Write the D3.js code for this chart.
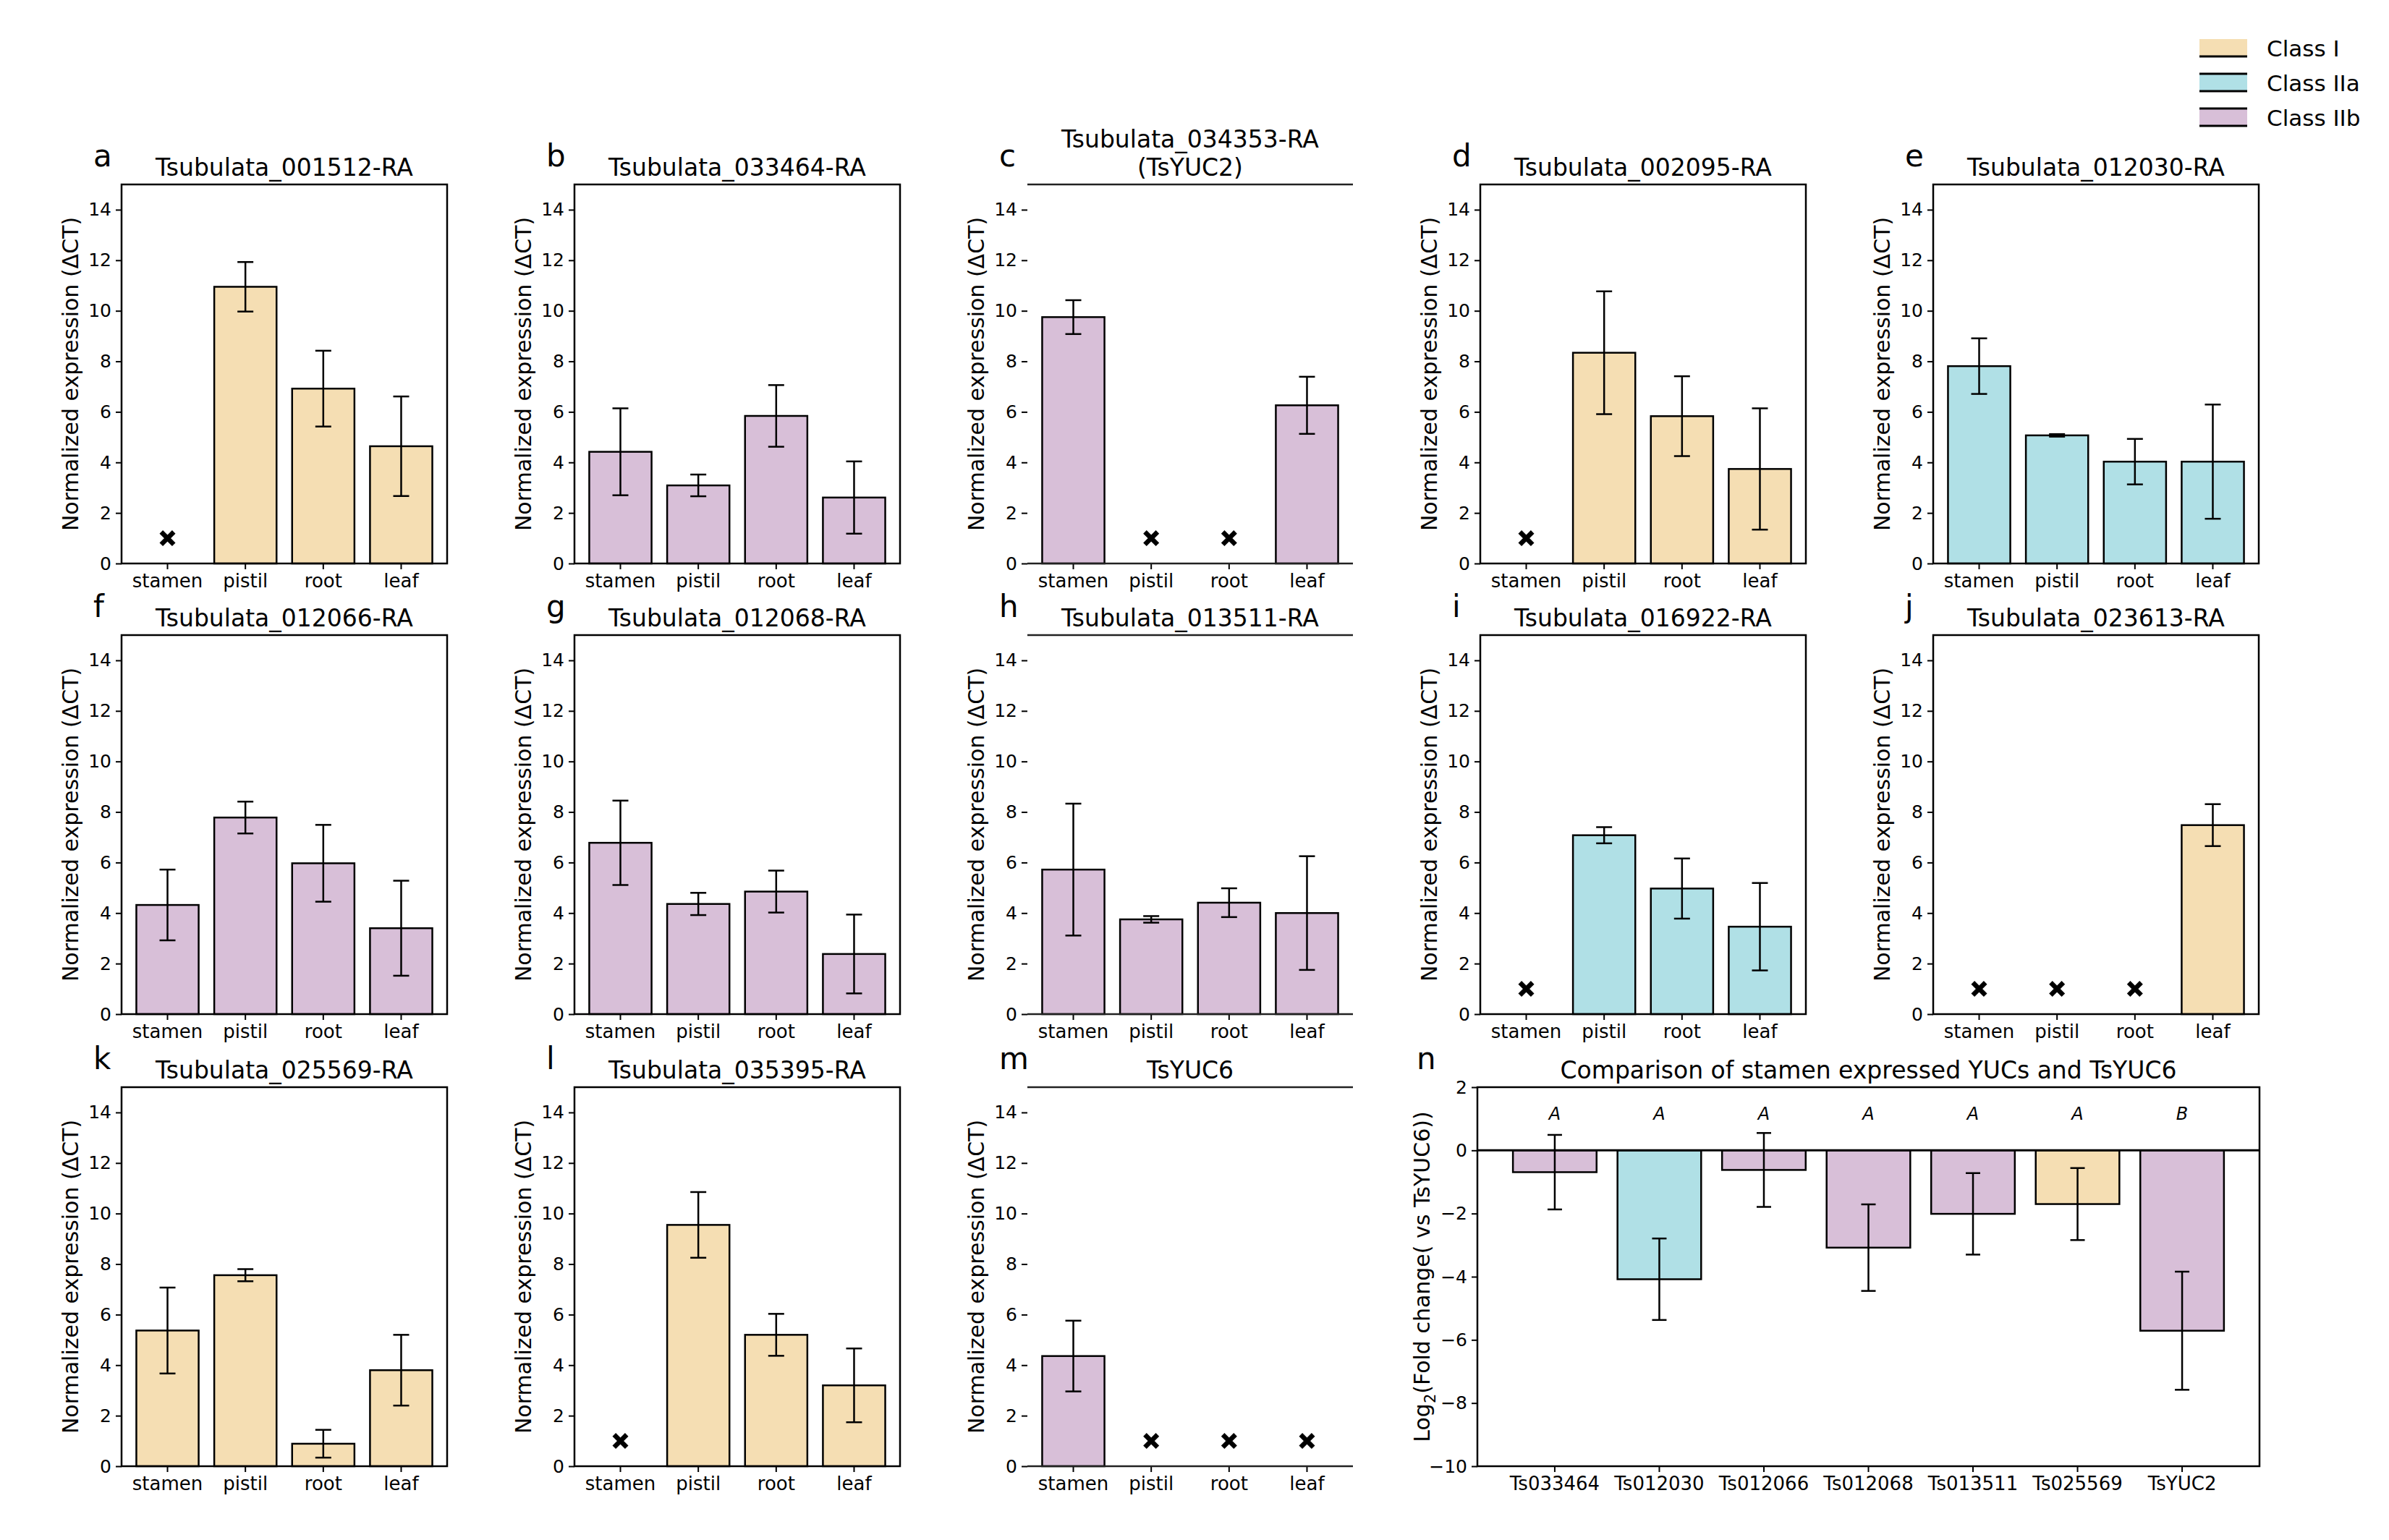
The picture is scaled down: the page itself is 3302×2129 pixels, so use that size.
<!DOCTYPE html>
<html>
<head>
<meta charset="utf-8">
<script src="https://cdn.jsdelivr.net/npm/d3@7"></script>
<style>
  body { margin: 0; background: #fff; }
  text { font-family: "DejaVu Sans", sans-serif; fill: #000; }
</style>
</head>
<body>
<div id="chart"></div>
<script>
"use strict";

// tissues on the x axis of panels a-m
var tissues = ["stamen", "pistil", "root", "leaf"];

var panelLetters = ["a", "b", "c", "d", "e", "f", "g", "h", "i", "j", "k", "l", "m"];
var panelTitles = [
  ["Tsubulata_001512-RA"],
  ["Tsubulata_033464-RA"],
  ["Tsubulata_034353-RA", "(TsYUC2)"],
  ["Tsubulata_002095-RA"],
  ["Tsubulata_012030-RA"],
  ["Tsubulata_012066-RA"],
  ["Tsubulata_012068-RA"],
  ["Tsubulata_013511-RA"],
  ["Tsubulata_016922-RA"],
  ["Tsubulata_023613-RA"],
  ["Tsubulata_025569-RA"],
  ["Tsubulata_035395-RA"],
  ["TsYUC6"]
];
var panelClasses = ["I", "IIb", "IIb", "I", "IIa", "IIb", "IIb", "IIb", "IIa", "I", "I", "I", "IIb"];

// mean normalized expression per tissue, null = not detected (drawn as a cross)
var panelMeans = [
  [null, 10.95, 6.92, 4.64],
  [4.42, 3.09, 5.84, 2.61],
  [9.75, null, null, 6.26],
  [null, 8.34, 5.83, 3.74],
  [7.81, 5.07, 4.03, 4.03],
  [4.32, 7.78, 5.97, 3.40],
  [6.78, 4.36, 4.85, 2.38],
  [5.72, 3.75, 4.41, 4.00],
  [null, 7.08, 4.97, 3.46],
  [null, null, null, 7.48],
  [5.37, 7.56, 0.89, 3.80],
  [null, 9.55, 5.20, 3.20],
  [4.36, null, null, null]
];
var panelErrors = [
  [null, 0.98, 1.50, 1.97],
  [1.72, 0.43, 1.22, 1.43],
  [0.67, null, null, 1.13],
  [null, 2.43, 1.58, 2.40],
  [1.10, 0.05, 0.90, 2.26],
  [1.40, 0.63, 1.52, 1.88],
  [1.67, 0.44, 0.83, 1.56],
  [2.61, 0.13, 0.57, 2.25],
  [null, 0.32, 1.19, 1.73],
  [null, null, null, 0.83],
  [1.70, 0.24, 0.55, 1.40],
  [null, 1.30, 0.83, 1.46],
  [1.40, null, null, null]
];
var notDetectedLevel = 1;
var expressionTicks = [0, 2, 4, 6, 8, 10, 12, 14];
var openFramePanels = ["c", "h", "m"];

// panel n
var compGenes = ["Ts033464", "Ts012030", "Ts012066", "Ts012068", "Ts013511", "Ts025569", "TsYUC2"];
var compLog2FC = [-0.69, -4.08, -0.62, -3.08, -2.01, -1.70, -5.71];
var compErrors = [1.18, 1.29, 1.17, 1.37, 1.29, 1.14, 1.87];
var compClasses = ["IIb", "IIa", "IIb", "IIb", "IIb", "I", "IIb"];
var compLetters = ["A", "A", "A", "A", "A", "A", "B"];
var compLetterLevel = 1.18;
var compTicks = [-10, -8, -6, -4, -2, 0, 2];

var classKeys = ["I", "IIa", "IIb"];
var classNames = ["Class I", "Class IIa", "Class IIb"];
var classColors = { "I": "#f5deb3", "IIa": "#b0e0e6", "IIb": "#d8bfd8" };

var W = 3302, H = 2129;
var colX = [168, 794, 1420, 2046, 2672];
var rowY = [255, 878, 1503];
var pw = 450, ph = 524;

var svg = d3.select("#chart").append("svg")
  .attr("width", W).attr("height", H)
  .style("background", "#fff");

function styleAxis(ax, size) {
  ax.select(".domain").remove();
  ax.selectAll(".tick line").attr("stroke", "#000").attr("stroke-width", 2);
  ax.selectAll(".tick text").style("font-size", size + "px").attr("fill", "#000");
}

function errorBar(g, cx, lo, hi, cap) {
  g.append("line").attr("x1", cx).attr("x2", cx).attr("y1", lo).attr("y2", hi)
    .attr("stroke", "#000").attr("stroke-width", 2.5);
  [lo, hi].forEach(function (yy) {
    g.append("line").attr("x1", cx - cap).attr("x2", cx + cap).attr("y1", yy).attr("y2", yy)
      .attr("stroke", "#000").attr("stroke-width", 2.5);
  });
}

function drawPanel(i) {
  var col = i % 5, row = Math.floor(i / 5);
  var g = svg.append("g").attr("transform", "translate(" + colX[col] + "," + rowY[row] + ")");
  var x = d3.scaleBand().domain(tissues).range([0, pw]).paddingInner(0.2).paddingOuter(0.19);
  var y = d3.scaleLinear().domain([0, 15]).range([ph, 0]);
  var color = classColors[panelClasses[i]];

  tissues.forEach(function (t, j) {
    var m = panelMeans[i][j];
    var cx = x(t) + x.bandwidth() / 2;
    if (m === null) {
      g.append("path")
        .attr("d", d3.symbol(d3.symbolX, 200)())
        .attr("transform", "translate(" + cx + "," + y(notDetectedLevel) + ")")
        .attr("fill", "none").attr("stroke", "#000").attr("stroke-width", 6.5);
      return;
    }
    g.append("rect")
      .attr("x", x(t)).attr("width", x.bandwidth())
      .attr("y", y(m)).attr("height", y(0) - y(m))
      .attr("fill", color).attr("stroke", "#000").attr("stroke-width", 2.5);
    var e = panelErrors[i][j];
    errorBar(g, cx, y(m - e), y(m + e), 11);
  });

  var ya = g.append("g").call(d3.axisLeft(y).tickValues(expressionTicks).tickSize(8).tickPadding(6));
  styleAxis(ya, 25);
  var xa = g.append("g").attr("transform", "translate(0," + ph + ")")
    .call(d3.axisBottom(x).tickSize(8).tickPadding(7));
  styleAxis(xa, 26);

  if (openFramePanels.indexOf(panelLetters[i]) >= 0) {
    g.append("line").attr("x1", 0).attr("x2", pw).attr("y1", 0).attr("y2", 0)
      .attr("stroke", "#222").attr("stroke-width", 2.5);
    g.append("line").attr("x1", 0).attr("x2", pw).attr("y1", ph).attr("y2", ph)
      .attr("stroke", "#222").attr("stroke-width", 2.5);
  } else {
    g.append("rect").attr("width", pw).attr("height", ph)
      .attr("fill", "none").attr("stroke", "#000").attr("stroke-width", 2.5);
  }

  var lines = panelTitles[i];
  lines.forEach(function (s, k) {
    g.append("text")
      .attr("x", pw / 2).attr("y", -12 - (lines.length - 1 - k) * 39)
      .attr("text-anchor", "middle").style("font-size", "33px").text(s);
  });

  g.append("text").attr("x", -39).attr("y", -25).style("font-size", "42px").text(panelLetters[i]);

  g.append("text")
    .attr("transform", "translate(-60," + ph / 2 + ") rotate(-90)")
    .attr("text-anchor", "middle").style("font-size", "30px")
    .text("Normalized expression (\u0394CT)");
}

panelLetters.forEach(function (d, i) { drawPanel(i); });

// panel n: comparison against TsYUC6
(function () {
  var gw = 1081, gh = 524;
  var g = svg.append("g").attr("transform", "translate(2042,1503)");
  var x = d3.scaleBand().domain(compGenes).range([0, gw]).paddingInner(0.2).paddingOuter(0.34);
  var y = d3.scaleLinear().domain([-10, 2]).range([gh, 0]);

  compGenes.forEach(function (gname, j) {
    var v = compLog2FC[j];
    var cx = x(gname) + x.bandwidth() / 2;
    g.append("rect")
      .attr("x", x(gname)).attr("width", x.bandwidth())
      .attr("y", y(Math.max(0, v))).attr("height", Math.abs(y(v) - y(0)))
      .attr("fill", classColors[compClasses[j]]).attr("stroke", "#000").attr("stroke-width", 2.5);
    errorBar(g, cx, y(v - compErrors[j]), y(v + compErrors[j]), 10);
    g.append("text")
      .attr("x", cx).attr("y", y(compLetterLevel) + 9)
      .attr("text-anchor", "middle").style("font-size", "24px").style("font-style", "italic")
      .text(compLetters[j]);
  });

  g.append("line").attr("x1", 0).attr("x2", gw).attr("y1", y(0)).attr("y2", y(0))
    .attr("stroke", "#000").attr("stroke-width", 3);

  var ya = g.append("g").call(d3.axisLeft(y).tickValues(compTicks).tickSize(8).tickPadding(6));
  styleAxis(ya, 25);
  var xa = g.append("g").attr("transform", "translate(0," + gh + ")")
    .call(d3.axisBottom(x).tickSize(8).tickPadding(7));
  styleAxis(xa, 26);

  g.append("rect").attr("width", gw).attr("height", gh)
    .attr("fill", "none").attr("stroke", "#000").attr("stroke-width", 2.5);

  g.append("text").attr("x", gw / 2).attr("y", -12).attr("text-anchor", "middle")
    .style("font-size", "33px").text("Comparison of stamen expressed YUCs and TsYUC6");

  g.append("text").attr("x", -84).attr("y", -25).style("font-size", "42px").text("n");

  var yl = g.append("text")
    .attr("transform", "translate(-66," + gh / 2 + ") rotate(-90)")
    .attr("text-anchor", "middle").style("font-size", "30px");
  yl.append("tspan").text("Log");
  yl.append("tspan").attr("dy", 8).style("font-size", "21px").text("2");
  yl.append("tspan").attr("dy", -8).text("(Fold change( vs TsYUC6))");
})();

// legend, top right
var legend = svg.append("g").attr("transform", "translate(3040,54)");
classKeys.forEach(function (k, i) {
  var ly = i * 48;
  legend.append("rect").attr("x", 0).attr("y", ly).attr("width", 66).attr("height", 24)
    .attr("fill", classColors[k]);
  legend.append("line").attr("x1", 0).attr("x2", 66).attr("y1", ly + 24).attr("y2", ly + 24)
    .attr("stroke", "#000").attr("stroke-width", 3);
  if (i > 0) {
    legend.append("line").attr("x1", 0).attr("x2", 66).attr("y1", ly).attr("y2", ly)
      .attr("stroke", "#000").attr("stroke-width", 3);
  }
  legend.append("text").attr("x", 93).attr("y", ly + 24)
    .style("font-size", "31px").text(classNames[i]);
});
</script>
</body>
</html>
